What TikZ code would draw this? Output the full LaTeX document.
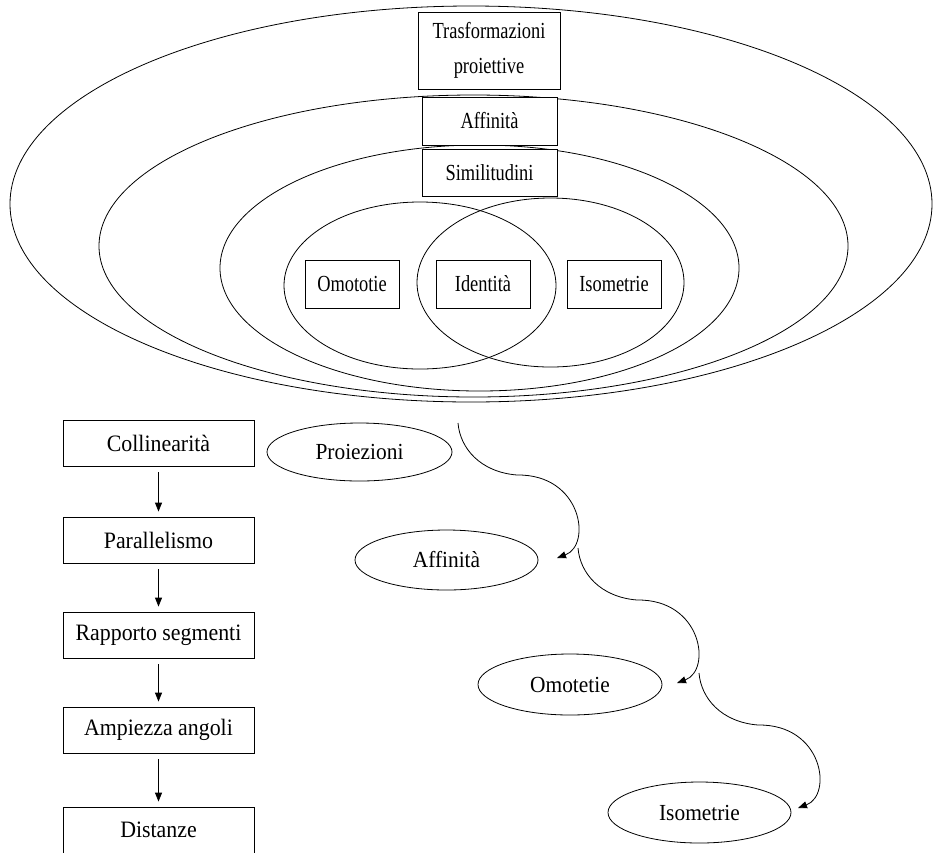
\documentclass[tikz,border=0pt]{standalone}
\usepackage{fontspec}
\setmainfont{Liberation Serif}
\newfontfamily\narrowserif[FakeStretch=0.8]{Liberation Serif}
\newfontfamily\midserif[FakeStretch=0.93]{Liberation Serif}
\usetikzlibrary{arrows.meta,shapes.geometric,calc}
\begin{document}
\begin{tikzpicture}[x=1pt,y=-1pt, line width=0.8pt,
  btxt/.style={font=\midserif\fontsize{23.5}{28}\selectfont},
  ntxt/.style={font=\narrowserif\fontsize{23}{35}\selectfont},
  sqbox/.style={draw, fill=white, inner sep=0pt, align=center},
  ring/.style={draw, ellipse, inner sep=0pt},
  oval/.style={draw, ellipse, inner sep=0pt, font=\midserif\fontsize{23}{28}\selectfont},
  arr/.style={-{Triangle[length=9pt,width=7pt]}},
]
\useasboundingbox (0,0) rectangle (933,852);
% nested ellipses
\node[ring, minimum width=922pt, minimum height=396pt] (e1) at (471,204) {};
\node[ring, minimum width=749pt, minimum height=302pt] (e2) at (473.5,246) {};
\node[ring, minimum width=519pt, minimum height=246pt] (e3) at (479.5,268) {};
\node[ring, minimum width=272pt, minimum height=167pt] (vl) at (420,285.5) {};
\node[ring, minimum width=267pt, minimum height=169pt] (vr) at (550.5,282.5) {};
% labels of the nested sets
\node[sqbox, ntxt, minimum width=142pt, minimum height=77pt] (tp) at (489,50.5) {Trasformazioni\\proiettive};
\node[sqbox, ntxt, minimum width=135pt, minimum height=48pt] (af) at (489.5,121) {Affinità};
\node[sqbox, ntxt, minimum width=135pt, minimum height=47pt] (si) at (489.5,172.5) {Similitudini};
\node[sqbox, ntxt, minimum width=94pt, minimum height=48pt] (om) at (352,284) {Omototie};
\node[sqbox, ntxt, minimum width=94pt, minimum height=48pt] (id) at (483,284) {Identità};
\node[sqbox, ntxt, minimum width=94pt, minimum height=48pt] (is) at (614,284) {Isometrie};
% invariants chain
\node[sqbox, btxt, minimum width=191pt, minimum height=46pt] (b1) at (158.5,443) {Collinearità};
\node[sqbox, btxt, minimum width=191pt, minimum height=46pt] (b2) at (158.5,540) {Parallelismo};
\node[sqbox, btxt, minimum width=191pt, minimum height=46pt] (b3) at (158.5,635) {Rapporto segmenti};
\node[sqbox, btxt, minimum width=191pt, minimum height=46pt] (b4) at (158.5,730) {Ampiezza angoli};
\node[sqbox, btxt, minimum width=191pt, minimum height=46pt] (b5) at (158.5,830) {Distanze};
\foreach \a/\b in {b1/b2,b2/b3,b3/b4,b4/b5}
  \draw[arr, shorten <=6pt, shorten >=5pt] (\a) -- (\b);
% transformation ovals
\node[oval, minimum width=185pt, minimum height=58pt] (o1) at (359.5,452) {Proiezioni};
\node[oval, minimum width=183pt, minimum height=60pt] (o2) at (446.5,560) {Affinità};
\node[oval, minimum width=184pt, minimum height=61pt] (o3) at (570,684.5) {Omotetie};
\node[oval, minimum width=183pt, minimum height=61pt] (o4) at (699.5,812.5) {Isometrie};
% wavy arrows
\coordinate (s1) at ([shift={(98.5,-29)}]o1.center);
\coordinate (s2) at ($(s1)+(120,125)$);
\coordinate (s3) at ($(s1)+(241,250)$);
\foreach \s in {s1,s2,s3}
  \draw[arr] (\s) .. controls ($(\s)+(2,25)$) and ($(\s)+(22,49)$) .. ($(\s)+(59,52)$)
    .. controls ($(\s)+(124,51)$) and ($(\s)+(134,122)$) .. ($(\s)+(99,135)$);
\end{tikzpicture}
\end{document}
